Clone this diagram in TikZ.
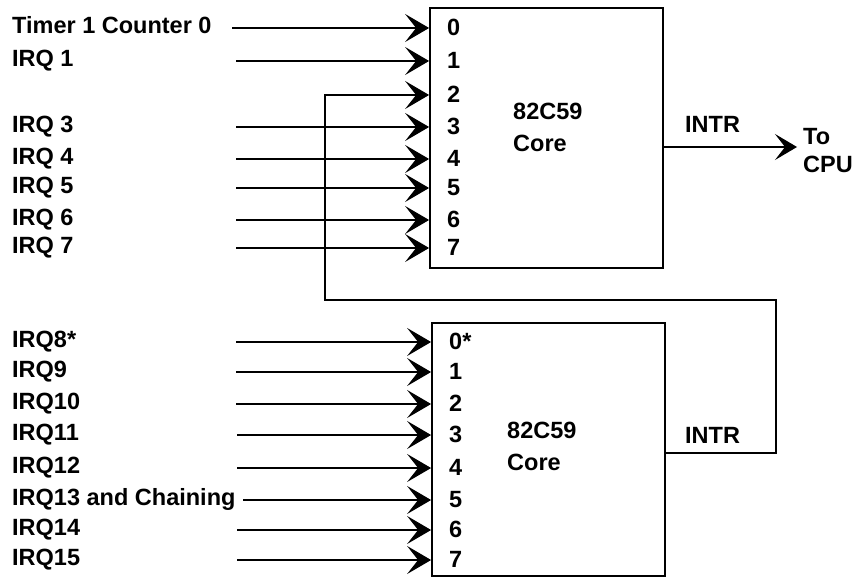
\documentclass[tikz,border=0pt]{standalone}
\usepackage{fontspec}
\setmainfont{Liberation Sans}
\usetikzlibrary{arrows.meta}
\begin{document}
\begin{tikzpicture}[x=1pt,y=-1pt,
  txt/.style={inner sep=0pt,anchor=base west,font=\fontsize{23.5}{26}\selectfont\bfseries},
  chip/.style={draw,line width=1.8pt,inner sep=0pt},
  wire/.style={line width=1.1pt},
  arr/.style={wire,-{Stealth[length=24pt,width=28pt,inset=11pt]}}]
\useasboundingbox (0,0) rectangle (857,580);
% boxes
\node[chip,minimum width=233pt,minimum height=260pt] (top) at (546.5,138) {};
\node[chip,minimum width=233pt,minimum height=253pt] (bot) at (548.5,449.5) {};
% core labels
\node[txt] (t82) at (513,120) {82C59};
\node[txt] (tcore) at (513,152) {Core};
\node[txt] (b82) at (507,438) {82C59};
\node[txt] (bcore) at (507,470) {Core};
% top inputs
\foreach \n/\y/\lab/\sx in {0/28/{Timer 1 Counter 0}/232,1/61/{IRQ 1}/236,3/127/{IRQ 3}/236,4/159/{IRQ 4}/236,5/188/{IRQ 5}/236,6/220/{IRQ 6}/236,7/248/{IRQ 7}/236}{
  \node[txt] (tl\n) at (12,\y+6) {\lab};
  \coordinate (ts\n) at (\sx,\y);
  \coordinate (tp\n) at (top.west |- 0,\y);
  \draw[arr] (ts\n) -- (tp\n);
}
\foreach \n/\y in {0/28,1/61,2/95,3/127,4/159,5/188,6/220,7/248}{
  \node[txt] (tn\n) at (447,\y+8) {\n};
}
\coordinate (tp2) at (top.west |- 0,95);
% bottom inputs
\foreach \n/\y/\lab/\sx in {0/342/{IRQ8*}/236,1/372/{IRQ9}/236,2/404/{IRQ10}/236,3/435/{IRQ11}/237,4/468/{IRQ12}/237,5/500/{IRQ13 and Chaining}/243,6/530/{IRQ14}/237,7/560/{IRQ15}/237}{
  \node[txt] (bl\n) at (12,\y+5) {\lab};
  \coordinate (bs\n) at (\sx,\y);
  \coordinate (bp\n) at (bot.west |- 0,\y);
  \draw[arr] (bs\n) -- (bp\n);
}
\foreach \n/\y/\lab in {0/342/{0*},1/372/1,2/404/2,3/435/3,4/468/4,5/500/5,6/530/6,7/560/7}{
  \node[txt] (bn\n) at (449,\y+7) {\lab};
}
% output to CPU
\node[txt] (tintr) at (685,133) {INTR};
\node[txt] (to) at (803,145) {To};
\node[txt] (cpu) at (803,173) {CPU};
\coordinate (tout) at (top.east |- 0,147);
\coordinate (cpuin) at (797,147);
\draw[wire,-{Stealth[length=22pt,width=26pt,inset=10pt]}] (tout) -- (cpuin);
% cascade
\node[txt] (bintr) at (685,443) {INTR};
\coordinate (bout) at (bot.east |- 0,453);
\draw[arr] (bout) -- (776,453) -- (776,300) -- (325,300) -- (325,95) -- (tp2);
\end{tikzpicture}
\end{document}
